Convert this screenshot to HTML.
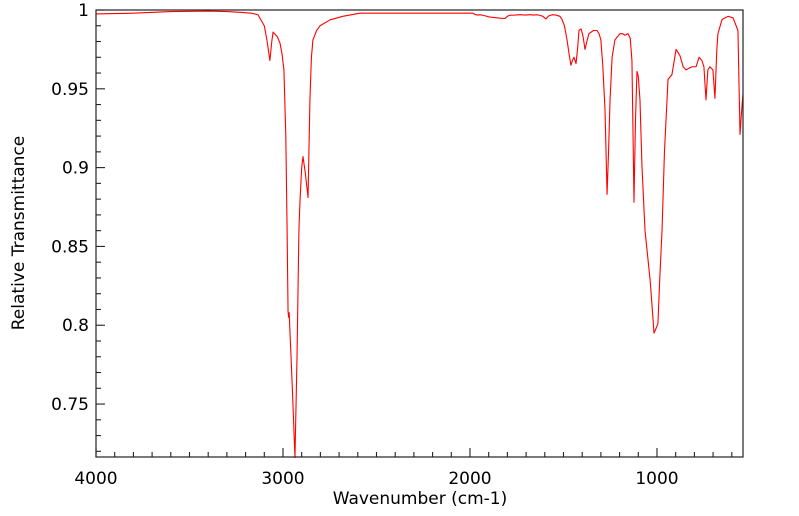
<!DOCTYPE html>
<html><head><meta charset="utf-8"><style>
html,body{margin:0;padding:0;background:#fff;}
svg{display:block;font-family:"DejaVu Sans","Liberation Sans",sans-serif;}
</style></head><body>
<svg id="chart" width="799" height="516">
<rect x="0" y="0" width="799" height="516" fill="#fff"/>
<g id="ticks"></g>
<g id="labels"></g>
<path id="spec" fill="none" stroke="#ff0000" stroke-width="1.1" stroke-linejoin="round"/>
<rect x="96" y="10" width="647" height="447" fill="none" stroke="#222" stroke-width="1.2"/>
<text x="420" y="504" font-size="17" text-anchor="middle">Wavenumber (cm-1)</text>
<text x="0" y="0" font-size="17" text-anchor="middle" transform="translate(24,233) rotate(-90)">Relative Transmittance</text>
</svg>
<script>
const wavenumbers=[4000,3800,3600,3400,3300,3230,3170,3134,3100,3086,3070,3060,3053,3030,3016,3005,2995,2985,2978,2973,2970,2967,2950,2936,2925,2915,2909,2900,2893,2880,2866,2856,2848,2840,2820,2802,2749,2680,2588,2400,2200,1985,1970,1957,1945,1930,1915,1898,1870,1840,1813,1800,1786,1760,1730,1706,1680,1660,1640,1626,1610,1594,1580,1561,1540,1519,1508,1495,1481,1470,1460,1452,1444,1438,1433,1425,1417,1406,1395,1385,1375,1364,1340,1321,1310,1300,1290,1278,1267,1259,1251,1240,1225,1198,1185,1171,1155,1143,1134,1128,1123,1115,1107,1100,1091,1080,1064,1037,1025,1016,1005,995,985,973,960,941,920,898,877,860,845,830,813,791,775,760,749,738,728,717,701,690,680,674,652,620,593,567,556,548,540];
const transmittance=[0.9975,0.998,0.999,0.9993,0.999,0.9985,0.998,0.997,0.990,0.981,0.968,0.980,0.986,0.983,0.979,0.972,0.962,0.92,0.86,0.809,0.805,0.808,0.76,0.716,0.78,0.86,0.879,0.900,0.907,0.896,0.881,0.943,0.970,0.981,0.987,0.990,0.9937,0.996,0.998,0.998,0.998,0.998,0.997,0.9968,0.997,0.9966,0.9962,0.9956,0.9952,0.9948,0.9946,0.996,0.9967,0.9968,0.997,0.9968,0.997,0.9968,0.997,0.9966,0.996,0.9943,0.9962,0.997,0.9968,0.996,0.994,0.99,0.981,0.972,0.965,0.968,0.970,0.968,0.966,0.975,0.987,0.988,0.983,0.975,0.980,0.985,0.987,0.987,0.985,0.981,0.965,0.937,0.883,0.91,0.943,0.970,0.981,0.985,0.985,0.984,0.985,0.982,0.968,0.92,0.878,0.93,0.961,0.958,0.943,0.90,0.860,0.829,0.81,0.795,0.798,0.801,0.83,0.860,0.91,0.956,0.959,0.975,0.971,0.964,0.962,0.963,0.964,0.964,0.970,0.968,0.964,0.943,0.962,0.964,0.962,0.944,0.975,0.985,0.994,0.996,0.995,0.987,0.921,0.935,0.947];
const xTicks=[4000,3000,2000,1000];
const yTicks=[1,0.95,0.9,0.85,0.8,0.75];
const yTickLabels=["1","0.95","0.9","0.85","0.8","0.75"];
const X0=96,X1=743,Y0=10,Y1=457,WMAX=4000,WMIN=540,TMAX=1,TMIN=0.7164;
function xs(w){return X0+(WMAX-w)/(WMAX-WMIN)*(X1-X0);}
function ys(t){return Y0+(TMAX-t)/(TMAX-TMIN)*(Y1-Y0);}
const NS="http://www.w3.org/2000/svg";
let d="";
for(let i=0;i<wavenumbers.length;i++){
  let y=Math.min(Y1+2,ys(transmittance[i]));
  d+=(i?"L":"M")+xs(wavenumbers[i]).toFixed(2)+","+y.toFixed(2);
}
document.getElementById("spec").setAttribute("d",d);
const tg=document.getElementById("ticks"),lg=document.getElementById("labels");
function line(x1,y1,x2,y2,name){
  const l=document.createElementNS(NS,"line");
  l.setAttribute("x1",x1);l.setAttribute("y1",y1);l.setAttribute("x2",x2);l.setAttribute("y2",y2);
  l.setAttribute("stroke","#222");l.setAttribute("stroke-width","1.1");
  
  
  tg.appendChild(l);
}
for(let w=4000;w>=WMIN;w-=100){
  const major=w%1000===0;
  line(xs(w),Y1,xs(w),Y1-(major?9:5),"x-tick");
}
for(let k=0;k<=28;k++){
  const t=1-k*0.01;
  if(t<TMIN)break;
  const major=k%5===0;
  line(X0,ys(t),X0+(major?9:5),ys(t),"y-tick");
}
function txt(x,y,s,anchor,name){
  const e=document.createElementNS(NS,"text");
  e.setAttribute("x",x);e.setAttribute("y",y);e.setAttribute("font-size","17");
  e.setAttribute("text-anchor",anchor);e.textContent=s;
  
  
  lg.appendChild(e);
}
xTicks.forEach(w=>txt(xs(w),484,String(w),"middle","x-tick-label"));
yTicks.forEach((t,i)=>txt(89,ys(t)+6,yTickLabels[i],"end","y-tick-label"));
</script>
</body></html>
